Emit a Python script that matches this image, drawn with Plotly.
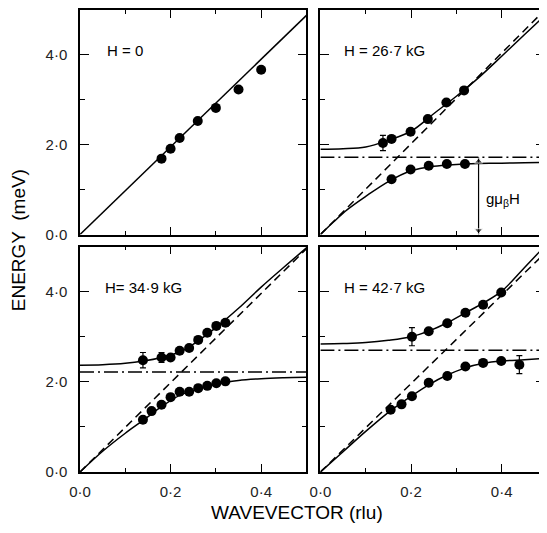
import plotly.graph_objects as go
from plotly.subplots import make_subplots

# ---------------- data ----------------
# H = 0
q_h0 = [0.18, 0.20, 0.22, 0.26, 0.30, 0.35, 0.40]
e_h0 = [1.69, 1.91, 2.15, 2.53, 2.82, 3.23, 3.67]
fit_h0_q = [0.0, 0.5]
fit_h0_e = [0.0, 4.88]

# H = 26.7 kG
up_267_q = [0.138, 0.157, 0.199, 0.237, 0.278, 0.317]
up_267_e = [2.04, 2.13, 2.29, 2.57, 2.94, 3.21]
up_267_err = [0.17, 0, 0, 0, 0, 0]
lo_267_q = [0.157, 0.199, 0.239, 0.279, 0.319]
lo_267_e = [1.23, 1.45, 1.53, 1.57, 1.57]
fitup_267_q = [0, 0.05, 0.1, 0.15, 0.2, 0.25, 0.3, 0.35, 0.4, 0.45, 0.5]
fitup_267_e = [1.90, 1.91, 1.95, 2.10, 2.30, 2.69, 3.08, 3.50, 3.97, 4.45, 4.92]
fitlo_267_q = [0, 0.03, 0.06, 0.1, 0.15, 0.2, 0.25, 0.3, 0.35, 0.4, 0.45, 0.5]
fitlo_267_e = [0, 0.29, 0.56, 0.85, 1.18, 1.42, 1.52, 1.56, 1.58, 1.59, 1.60, 1.61]
bare_267_q = [0.0, 0.495]
bare_267_e = [0.0, 5.0]
gap_267 = 1.72
arrow_q = 0.349   # position of the g mu H arrow

# H = 34.9 kG
up_349_q = [0.139, 0.180, 0.200, 0.220, 0.241, 0.261, 0.281, 0.301, 0.321]
up_349_e = [2.48, 2.54, 2.54, 2.69, 2.75, 2.93, 3.09, 3.24, 3.31]
up_349_err = [0.17, 0.11, 0, 0, 0, 0, 0, 0, 0]
lo_349_q = [0.139, 0.158, 0.180, 0.200, 0.220, 0.241, 0.261, 0.281, 0.301, 0.321]
lo_349_e = [1.16, 1.35, 1.49, 1.66, 1.78, 1.78, 1.86, 1.91, 1.97, 2.01]
fitup_349_q = [0, 0.05, 0.1, 0.14, 0.18, 0.22, 0.26, 0.3, 0.35, 0.4, 0.45, 0.5]
fitup_349_e = [2.37, 2.38, 2.41, 2.46, 2.54, 2.66, 2.90, 3.20, 3.63, 4.10, 4.54, 4.97]
fitlo_349_q = [0, 0.05, 0.1, 0.14, 0.18, 0.22, 0.26, 0.3, 0.35, 0.4, 0.45, 0.5]
fitlo_349_e = [0, 0.46, 0.86, 1.15, 1.45, 1.70, 1.84, 1.95, 2.03, 2.07, 2.09, 2.10]
bare_349_q = [0.0, 0.5]
bare_349_e = [0.0, 4.95]
gap_349 = 2.22

# H = 42.7 kG
up_427_q = [0.202, 0.239, 0.280, 0.320, 0.359, 0.399]
up_427_e = [3.00, 3.12, 3.30, 3.53, 3.71, 3.98]
up_427_err = [0.2, 0, 0, 0, 0, 0]
lo_427_q = [0.155, 0.179, 0.202, 0.239, 0.280, 0.320, 0.359, 0.399, 0.439]
lo_427_e = [1.38, 1.50, 1.68, 1.98, 2.13, 2.34, 2.42, 2.46, 2.38]
lo_427_err = [0, 0, 0, 0, 0, 0, 0, 0, 0.2]
fitup_427_q = [0, 0.05, 0.1, 0.15, 0.2, 0.24, 0.28, 0.32, 0.36, 0.4, 0.45, 0.5]
fitup_427_e = [2.84, 2.85, 2.87, 2.92, 3.00, 3.13, 3.31, 3.53, 3.75, 4.01, 4.53, 5.06]
fitlo_427_q = [0, 0.05, 0.1, 0.155, 0.2, 0.24, 0.28, 0.32, 0.36, 0.4, 0.45, 0.5]
fitlo_427_e = [0, 0.45, 0.90, 1.36, 1.68, 1.94, 2.15, 2.31, 2.41, 2.46, 2.49, 2.52]
bare_427_q = [0.0, 0.5]
bare_427_e = [0.0, 4.9]
gap_427 = 2.70

x_ticks = [0, 0.2, 0.4]
x_ticktext = ['0·0', '0·2', '0·4']
y_ticks = [0, 2, 4]
y_ticktext = ['0·0', '2·0', '4·0']

FONT = 'Liberation Sans'
DASH = '8px,5px'
DASHDOT = '14px,4px,2px,4px'

fig = make_subplots(rows=2, cols=2)


def pts(q, e, err, row, col):
    fig.add_trace(go.Scatter(
        x=q, y=e, mode='markers',
        marker=dict(color='black', size=10),
        error_y=dict(type='data', array=err, color='black', thickness=1.2, width=3) if err else None,
        showlegend=False, hoverinfo='skip',
    ), row=row, col=col)


def curve(q, e, row, col, dash='solid'):
    fig.add_trace(go.Scatter(
        x=q, y=e, mode='lines',
        line=dict(color='black', width=1.5, dash=dash, shape='spline', smoothing=1.0),
        showlegend=False, hoverinfo='skip',
    ), row=row, col=col)


# H = 0
curve(fit_h0_q, fit_h0_e, 1, 1)
pts(q_h0, e_h0, None, 1, 1)

# H = 26.7 kG
curve(bare_267_q, bare_267_e, 1, 2, DASH)
curve([0, 0.5], [gap_267, gap_267], 1, 2, DASHDOT)
curve(fitup_267_q, fitup_267_e, 1, 2)
curve(fitlo_267_q, fitlo_267_e, 1, 2)
pts(up_267_q, up_267_e, up_267_err, 1, 2)
pts(lo_267_q, lo_267_e, None, 1, 2)

# g mu H double-headed arrow
fig.add_trace(go.Scatter(
    x=[arrow_q, arrow_q], y=[0, gap_267], mode='lines',
    line=dict(color='black', width=1.2), showlegend=False, hoverinfo='skip',
), row=1, col=2)
fig.add_trace(go.Scatter(
    x=[arrow_q, arrow_q], y=[gap_267 - 0.09, 0.09], mode='markers',
    marker=dict(symbol=['triangle-up', 'triangle-down'], color='black', size=[7, 7]),
    showlegend=False, hoverinfo='skip',
), row=1, col=2)

# H = 34.9 kG
curve(bare_349_q, bare_349_e, 2, 1, DASH)
curve([0, 0.5], [gap_349, gap_349], 2, 1, DASHDOT)
curve(fitup_349_q, fitup_349_e, 2, 1)
curve(fitlo_349_q, fitlo_349_e, 2, 1)
pts(up_349_q, up_349_e, up_349_err, 2, 1)
pts(lo_349_q, lo_349_e, None, 2, 1)

# H = 42.7 kG
curve(bare_427_q, bare_427_e, 2, 2, DASH)
curve([0, 0.5], [gap_427, gap_427], 2, 2, DASHDOT)
curve(fitup_427_q, fitup_427_e, 2, 2)
curve(fitlo_427_q, fitlo_427_e, 2, 2)
pts(up_427_q, up_427_e, up_427_err, 2, 2)
pts(lo_427_q, lo_427_e, lo_427_err, 2, 2)

# axes
x_dom = {1: [0, 0.487], 2: [0.517, 1.0]}
y_dom = {1: [0.514, 1.0], 2: [0, 0.488]}
for r in (1, 2):
    for c in (1, 2):
        fig.update_xaxes(
            domain=x_dom[c], range=[0, 0.5 if c == 1 else 0.4956],
            tickvals=x_ticks, ticktext=x_ticktext, showticklabels=(r == 2),
            ticks='inside', ticklen=8, tickwidth=1.3, tickcolor='black',
            minor=dict(tickvals=[0.1, 0.3], ticks='inside', ticklen=4, tickwidth=1.3, tickcolor='black'),
            showline=True, linecolor='black', linewidth=1.5, mirror='allticks',
            showgrid=False, zeroline=False, ticklabelstandoff=5,
            tickfont=dict(family=FONT, size=15, color='#222'),
            row=r, col=c)
        fig.update_yaxes(
            domain=y_dom[r], range=[0, 5],
            tickvals=y_ticks, ticktext=y_ticktext, showticklabels=(c == 1),
            ticks='inside', ticklen=9, tickwidth=1.3, tickcolor='black',
            minor=dict(tickvals=[1, 3], ticks='inside', ticklen=5, tickwidth=1.3, tickcolor='black'),
            showline=True, linecolor='black', linewidth=1.5, mirror='allticks',
            showgrid=False, zeroline=False, ticklabelstandoff=8,
            tickfont=dict(family=FONT, size=15, color='#222'),
            row=r, col=c)

annots = [
    dict(x=0.055, y=4.1, xref='x', yref='y', text='H = 0'),
    dict(x=0.047, y=4.1, xref='x2', yref='y2', text='H = 26·7 kG'),
    dict(x=0.05, y=4.1, xref='x3', yref='y3', text='H= 34·9 kG'),
    dict(x=0.047, y=4.1, xref='x4', yref='y4', text='H = 42·7 kG'),
    dict(x=0.36, y=0.78, xref='x2', yref='y2', text='gμ<sub>β</sub>H'),
]
for a in annots:
    fig.add_annotation(showarrow=False, xanchor='left',
                       font=dict(family=FONT, size=15, color='black'), **a)

fig.add_annotation(
    x=-0.133, y=0.502, xref='paper', yref='paper', text='ENERGY  (meV)', textangle=-90,
    xanchor='center', yanchor='middle',
    showarrow=False, font=dict(family=FONT, size=19, color='black'))
fig.add_annotation(
    x=0.466, y=-0.088, xref='paper', yref='paper', text='WAVEVECTOR (rlu)',
    xanchor='center', yanchor='middle',
    showarrow=False, font=dict(family=FONT, size=19, color='black'))

# the page body has an 8px margin, so the figure is sized to fit the window
fig.update_layout(
    width=539, height=525,
    margin=dict(l=72, r=0, t=0, b=61, pad=0),
    plot_bgcolor='white', paper_bgcolor='white',
    showlegend=False,
)

fig.write_html('out.html')
